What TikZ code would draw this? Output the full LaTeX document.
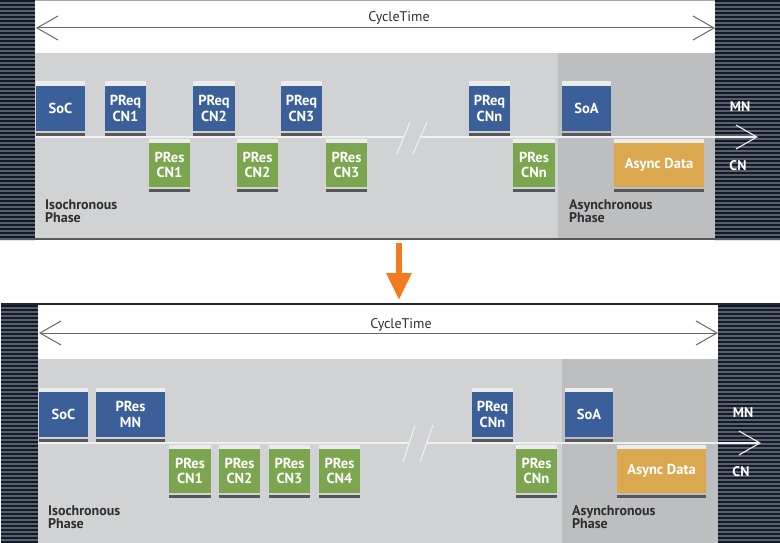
\documentclass[tikz,border=0pt]{standalone}
\usepackage{fontspec}
\setmainfont{PT Sans}
\usetikzlibrary{arrows.meta,calc}
\definecolor{navy}{HTML}{0F1B2B}
\definecolor{stripegray}{HTML}{5A5E66}
\definecolor{isogray}{HTML}{D1D2D4}
\definecolor{asyncgray}{HTML}{BDBEC0}
\definecolor{pblue}{HTML}{3B5F98}
\definecolor{pgreen}{HTML}{7BA64F}
\definecolor{porange}{HTML}{DBA74F}
\definecolor{lightstrip}{HTML}{ECECEC}
\definecolor{darkstrip}{HTML}{56575A}
\definecolor{arroworange}{HTML}{F47A20}
\definecolor{labeltext}{HTML}{2E2E2E}
\newcommand\mkpkt[7]{%
  \node[pkt,#6,minimum width={#3-#2},minimum height={#5-#4}] (#1) at ({(#2+#3)/2},{(#4+#5)/2}) {#7};
  \fill[lightstrip] ($(#1.north west)+(0,-4.5)$) rectangle (#1.north east);
  \fill[darkstrip] ($(#1.south west)+(0,2)$) rectangle ($(#1.south east)+(0,5)$);
}
\newcommand\mkstripes[4]{%
  \fill[stripegray] (#1,#3) rectangle (#2,#4);
  \pgfmathtruncatemacro\nstripes{(#4-#3)/4}%
  \foreach \i in {0,...,\nstripes} {\fill[navy] (#1,{#3+4*\i}) rectangle (#2,{min(#3+4*\i+2.4,#4)});}
}
\begin{document}
\begin{tikzpicture}[x=1pt,y=-1pt,
  pkt/.style={rectangle,inner sep=0pt,outer sep=0pt,text=white,
    font=\bfseries\fontsize{14.5}{15.5}\selectfont,align=center},
  blue/.style={fill=pblue},
  green/.style={fill=pgreen},
  orange/.style={fill=porange},
  phase/.style={anchor=west,align=left,text=labeltext,inner sep=0pt,
    font=\bfseries\fontsize{14}{13}\selectfont},
  mnlabel/.style={text=white,inner sep=0pt,font=\bfseries\fontsize{14}{13}\selectfont},
  cyclabel/.style={text=labeltext,inner sep=0pt,font=\fontsize{14}{14}\selectfont},
  cycarrow/.style={draw=gray!80!black,line width=1pt,
    {Straight Barb[length=21pt,width=24pt]}-{Straight Barb[length=21pt,width=24pt]}},
  axis/.style={draw=white!94!black,line width=1.1pt},
  axisarrow/.style={axis,-{Straight Barb[length=21pt,width=24pt]}},
  brk/.style={draw=white!94!black,line width=1.1pt}
]
\useasboundingbox (0,0) rectangle (780,543);
\fill[white] (0,0) rectangle (780,543);

% ================= TOP PANEL =================
\mkstripes{0}{35}{0}{240}
\mkstripes{715}{780}{0}{240}
\fill[white] (35,0) rectangle (715,53);
\draw[gray!70,line width=0.8pt] (35,0.4) -- (715,0.4);
\fill[isogray] (35,53) rectangle (558,238.5);
\fill[asyncgray] (558,53) rectangle (715,238.5);
\fill[gray!70!black] (35,238) rectangle (715,240);

\coordinate (tcL) at (36,28);
\coordinate (tcR) at (715,28);
\draw[cycarrow] (tcL) -- (tcR);
\node[cyclabel] (tct) at (399,18) {CycleTime};

\coordinate (taL) at (35,137);
\coordinate (taB1) at (404,137);
\coordinate (taB2) at (420,137);
\coordinate (taR) at (758,137);
\draw[axis] (taL) -- (taB1);
\draw[axisarrow] (taB2) -- (taR);
\coordinate (ts1a) at (397,154); \coordinate (ts1b) at (410,122);
\coordinate (ts2a) at (413,154); \coordinate (ts2b) at (427,122);
\draw[brk] (ts1a) -- (ts1b);
\draw[brk] (ts2a) -- (ts2b);

\mkpkt{tsoc}{36}{85}{86}{131}{blue}{SoC}
\mkpkt{tpq1}{105}{146}{86}{131}{blue}{PReq\\CN1}
\mkpkt{tpq2}{193}{235}{86}{131}{blue}{PReq\\CN2}
\mkpkt{tpq3}{281}{322}{86}{131}{blue}{PReq\\CN3}
\mkpkt{tpqn}{469}{510}{86}{131}{blue}{PReq\\CNn}
\mkpkt{tsoa}{562}{611}{86}{131}{blue}{SoA}
\mkpkt{tps1}{149}{190}{143}{187}{green}{PRes\\CN1}
\mkpkt{tps2}{237}{278}{143}{187}{green}{PRes\\CN2}
\mkpkt{tps3}{326}{367}{143}{187}{green}{PRes\\CN3}
\mkpkt{tpsn}{513}{555}{143}{187}{green}{PRes\\CNn}
\mkpkt{tasy}{614}{704}{143}{187}{orange}{Async Data}

\node[phase] (tiso) at (45,211.5) {Isochronous\\Phase};
\node[phase] (tasp) at (569,211.5) {Asynchronous\\Phase};
\node[mnlabel] (tmn) at (740,107) {MN};
\node[mnlabel] (tcn) at (738,166) {CN};

% ================= ARROW BETWEEN =================
\coordinate (oa1) at (399,243);
\coordinate (oa2) at (399,300);
\draw[arroworange,line width=6pt,-{Triangle[length=27pt,width=24pt]}] (oa1) -- (oa2);

% ================= BOTTOM PANEL =================
\mkstripes{1}{38}{305}{543}
\mkstripes{718}{780}{305}{543}
\fill[black!85] (1,303) rectangle (780,305);
\fill[white] (38,305) rectangle (718,359);
\fill[isogray] (38,359) rectangle (562,543);
\fill[asyncgray] (562,359) rectangle (718,543);

\coordinate (bcL) at (39,333);
\coordinate (bcR) at (718,333);
\draw[cycarrow] (bcL) -- (bcR);
\node[cyclabel] (bct) at (401,325) {CycleTime};

\coordinate (baL) at (38,443);
\coordinate (baB1) at (409,443);
\coordinate (baB2) at (426,443);
\coordinate (baR) at (761,443);
\draw[axis] (baL) -- (baB1);
\draw[axisarrow] (baB2) -- (baR);
\coordinate (bs1a) at (403,462); \coordinate (bs1b) at (415,425);
\coordinate (bs2a) at (420,462); \coordinate (bs2b) at (433,425);
\draw[brk] (bs1a) -- (bs1b);
\draw[brk] (bs2a) -- (bs2b);

\mkpkt{bsoc}{39}{88}{392}{437}{blue}{SoC}
\mkpkt{bpmn}{96}{165}{392}{437}{blue}{PRes\\MN}
\mkpkt{bpqn}{472}{513}{392}{437}{blue}{PReq\\CNn}
\mkpkt{bsoa}{565}{613}{392}{437}{blue}{SoA}
\mkpkt{bps1}{169}{211}{449}{493}{green}{PRes\\CN1}
\mkpkt{bps2}{219}{260}{449}{493}{green}{PRes\\CN2}
\mkpkt{bps3}{269}{310}{449}{493}{green}{PRes\\CN3}
\mkpkt{bps4}{319}{360}{449}{493}{green}{PRes\\CN4}
\mkpkt{bpsn}{516}{557}{449}{493}{green}{PRes\\CNn}
\mkpkt{basy}{617}{706}{449}{493}{orange}{Async Data}

\node[phase] (biso) at (48,517.5) {Isochronous\\Phase};
\node[phase] (basp) at (572,517.5) {Asynchronous\\Phase};
\node[mnlabel] (bmn) at (743,413) {MN};
\node[mnlabel] (bcn) at (741,472) {CN};
\end{tikzpicture}
\end{document}
